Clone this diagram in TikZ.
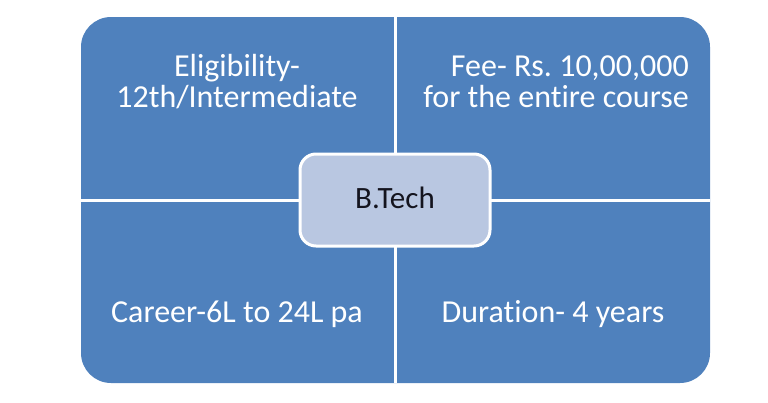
\documentclass[tikz,border=0pt]{standalone}
\usepackage{fontspec}
\setmainfont[Ligatures={NoCommon,NoRequired,NoContextual}]{Carlito}
\frenchspacing
\definecolor{quadblue}{RGB}{79,129,189}
\definecolor{centerfill}{RGB}{185,199,225}
\definecolor{centertext}{RGB}{20,20,30}
\begin{document}
\begin{tikzpicture}[x=1pt,y=-1pt,
  outerbox/.style={draw=none,fill=quadblue,rounded corners=30pt,minimum width=629pt,minimum height=366pt,inner sep=0pt},
  divider/.style={draw=white,line width=3pt},
  centerbox/.style={draw=white,line width=3pt,fill=centerfill,rounded corners=16pt,minimum width=190pt,minimum height=92pt,inner sep=0pt},
  quadtext/.style={text=white,font=\fontsize{32}{32}\selectfont,inner sep=0pt,anchor=base},
  centerlabel/.style={text=centertext,font=\fontsize{31}{31}\selectfont,inner sep=0pt,anchor=base}
]
\useasboundingbox (0,0) rectangle (768,402);
\node[outerbox] (outer) at (395.5,200) {};
\draw[divider] (outer.north) -- (outer.south);
\draw[divider] (outer.west) -- (outer.east);
\node[centerbox] (center) at (395,200) {};
\node[centerlabel] (btech) at (395,208) {B.Tech};
\node[quadtext] (elig1) at (237,76) {Eligibility-};
\node[quadtext] (elig2) at (237,107) {12th/Intermediate};
\node[quadtext,anchor=base east] (fee1) at (689,76) {Fee- Rs. 10,00,000};
\node[quadtext,anchor=base east] (fee2) at (689,107) {for the entire course};
\node[quadtext] (career) at (237,322) {Career-6L to 24L pa};
\node[quadtext] (duration) at (553,322) {Duration- 4 years};
\end{tikzpicture}
\end{document}
